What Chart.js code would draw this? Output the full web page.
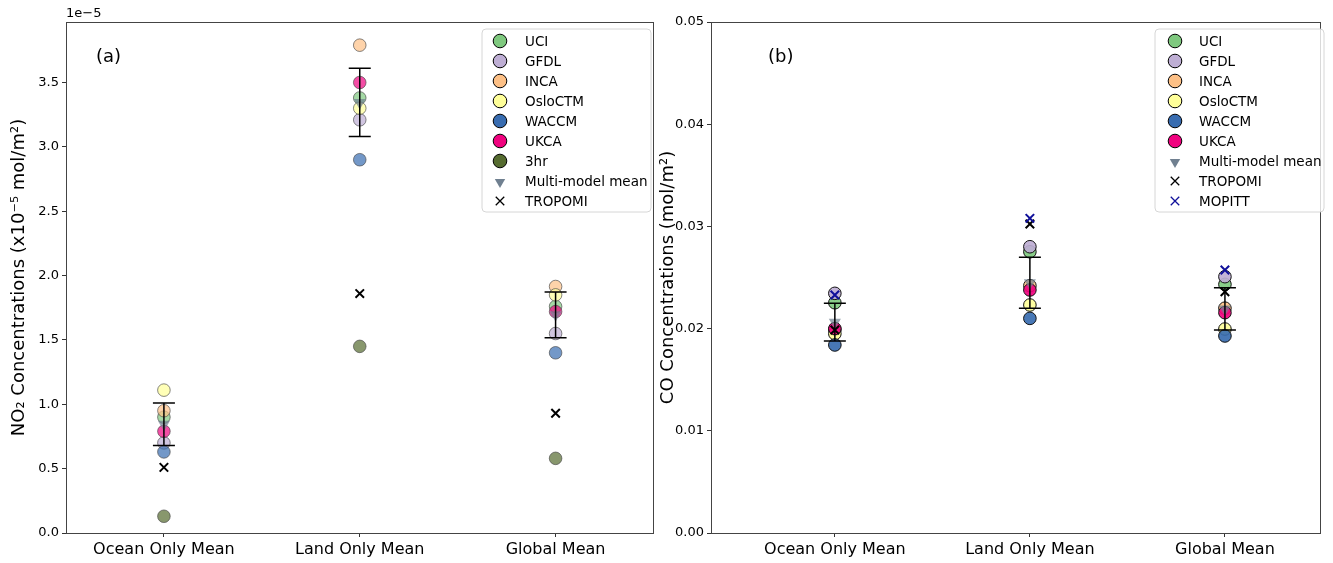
<!DOCTYPE html>
<html><head><meta charset="utf-8">
<script src="https://cdn.jsdelivr.net/npm/chart.js@4.4.1/dist/chart.umd.min.js"></script>
<style>
body{margin:0;background:#fff;width:1333px;height:563px;overflow:hidden;position:relative}
#ca{position:absolute;left:0;top:0}
#cb{position:absolute;left:658px;top:0}
</style></head><body>
<canvas id="ca" width="666" height="563"></canvas>
<canvas id="cb" width="675" height="563"></canvas>
<script>
const categories = ['Ocean Only Mean', 'Land Only Mean', 'Global Mean'];

// Panel (a): NO2 column, in units of 1e-5 mol/m2
const no2UCI     = [0.90, 3.38, 1.76];
const no2GFDL    = [0.70, 3.21, 1.55];
const no2INCA    = [0.95, 3.79, 1.915];
const no2Oslo    = [1.11, 3.30, 1.85];
const no2WACCM   = [0.63, 2.90, 1.40];
const no2UKCA    = [0.79, 3.50, 1.72];
const no2Hr3     = [0.13, 1.45, 0.58];
const no2Mean    = [0.845, 3.345, 1.695];
const no2Std     = [0.165, 0.265, 0.178];
const no2Tropomi = [0.51, 1.86, 0.93];
const no2Ticks   = [0, 0.5, 1.0, 1.5, 2.0, 2.5, 3.0, 3.5];

// Panel (b): CO column, mol/m2
const coUCI     = [0.02253, 0.02752, 0.02433];
const coGFDL    = [0.02345, 0.02801, 0.02508];
const coINCA    = [0.0199, 0.0242, 0.0220];
const coOslo    = [0.0195, 0.02231, 0.01996];
const coWACCM   = [0.0184, 0.0210, 0.01928];
const coUKCA    = [0.0200, 0.02378, 0.02156];
const coMean    = [0.02063, 0.02448, 0.02193];
const coStd     = [0.00185, 0.0025, 0.00207];
const coTropomi = [0.01986, 0.03023, 0.02361];
const coMopitt  = [0.02329, 0.03079, 0.02573];
const coTicks   = [0, 0.01, 0.02, 0.03, 0.04, 0.05];

const FONT = "'DejaVu Sans', sans-serif";
const COL = {UCI:'#7fc97f', GFDL:'#beaed4', INCA:'#fdc086', OsloCTM:'#ffff99', WACCM:'#386cb0', UKCA:'#f0027f', '3hr':'#556b2f'};

function hexA(h, a){const n=parseInt(h.slice(1),16);return `rgba(${n>>16},${(n>>8)&255},${n&255},${a})`;}
const pts = arr => arr.map((v,i)=>({x:i, y:v}));
function errPts(mean, sd){const o=[];mean.forEach((m,i)=>{o.push({x:i,y:m-sd[i]},{x:i,y:m+sd[i]},{x:i,y:null});});return o;}

function modelDs(label, arr, alpha, edge, order){
  return {label, data: pts(arr), pointStyle:'circle', pointRadius:6.3,
    backgroundColor: hexA(COL[label], alpha), borderColor: edge, borderWidth:1, order,
    legend:{type:'circle', color:COL[label]}};
}

function buildOpts(cfg){
  return {
    responsive:false, animation:false, devicePixelRatio:1, events:[],
    layout:{padding:{top:22, right:cfg.padRight, left:0, bottom:0}},
    plugins:{legend:{display:false}, tooltip:{enabled:false}, decor:cfg.decor},
    scales:{
      x:{type:'linear', min:cfg.xmin, max:cfg.xmax,
        afterBuildTicks: s => { s.ticks = categories.map((c,i)=>({value:i})); },
        ticks:{callback:v=>categories[v], font:{family:FONT,size:16}, color:'#000', padding:3, autoSkip:false, maxRotation:0},
        grid:{drawOnChartArea:false, drawTicks:true, tickLength:4, color:'#333'},
        border:{display:false},
        afterFit: s => { s.height = 30; s.paddingLeft = 0; s.paddingRight = 0; }
      },
      y:{type:'linear', min:0, max:cfg.ymax,
        afterBuildTicks: s => { s.ticks = cfg.ticks.map(v=>({value:v})); },
        ticks:{callback:cfg.fmt, font:{family:FONT,size:13}, color:'#000', padding:3},
        grid:{drawOnChartArea:false, drawTicks:true, tickLength:4, color:'#333'},
        border:{display:false},
        title:{display:true, text:cfg.title, font:{family:FONT,size:18}, color:'#000', padding:{top:cfg.titlePad,bottom:0}},
        afterFit: s => { s.width = cfg.yWidth; }
      }
    }
  };
}

const decor = {
  id:'decor',
  afterDraw(chart, args, o){
    if (!o || !o.legend) return;
    const ctx = chart.ctx, a = chart.chartArea;
    ctx.save();
    ctx.strokeStyle = '#444'; ctx.lineWidth = 1;
    ctx.strokeRect(Math.round(a.left)+0.5, Math.round(a.top)+0.5, Math.round(a.right-a.left)-1, Math.round(a.bottom-a.top));
    ctx.fillStyle = '#000';
    if (o.offset){ ctx.font = `13px ${FONT}`; ctx.textBaseline='alphabetic'; ctx.textAlign='left'; ctx.fillText(o.offset, a.left, a.top-5); }
    ctx.font = `18px ${FONT}`; ctx.textBaseline='middle'; ctx.textAlign='left';
    ctx.fillText(o.letter, a.left + o.letterDx, 57);
    // legend box
    const L = o.legend;
    const bx = L.x, by = L.y, bw = L.w, bh = L.h, r = 4;
    ctx.beginPath();
    ctx.moveTo(bx+r,by); ctx.lineTo(bx+bw-r,by); ctx.arcTo(bx+bw,by,bx+bw,by+r,r);
    ctx.lineTo(bx+bw,by+bh-r); ctx.arcTo(bx+bw,by+bh,bx+bw-r,by+bh,r);
    ctx.lineTo(bx+r,by+bh); ctx.arcTo(bx,by+bh,bx,by+bh-r,r);
    ctx.lineTo(bx,by+r); ctx.arcTo(bx,by,bx+r,by,r); ctx.closePath();
    ctx.fillStyle='rgba(255,255,255,0.8)'; ctx.fill();
    ctx.strokeStyle='#d6d6d6'; ctx.lineWidth=1; ctx.stroke();
    const items = chart.data.datasets.filter(d=>d.legend);
    items.forEach((d,i)=>{
      const y = L.y0 + i*L.step, x = L.mx;
      const lg = d.legend;
      if (lg.type==='circle'){
        ctx.fillStyle = lg.color; ctx.strokeStyle='#000'; ctx.lineWidth=1;
        Chart.helpers.drawPoint(ctx, {pointStyle:'circle', radius:6.8, borderWidth:1, rotation:0}, x, y);
      } else if (lg.type==='tri'){
        ctx.fillStyle = lg.color; ctx.strokeStyle=lg.color; ctx.lineWidth=0;
        Chart.helpers.drawPoint(ctx, {pointStyle:'triangle', radius:6, borderWidth:0, rotation:180}, x, y+1);
      } else {
        ctx.strokeStyle = lg.color; ctx.lineWidth=1.3;
        Chart.helpers.drawPoint(ctx, {pointStyle:'crossRot', radius:6, borderWidth:1.3, rotation:0}, x, y);
      }
      ctx.fillStyle='#000'; ctx.font=`13.5px ${FONT}`; ctx.textAlign='left'; ctx.textBaseline='middle';
      ctx.fillText(d.label, L.tx, y+1);
    });
    ctx.restore();
  }
};

// ---------- Panel (a)
const edgeA = 'rgba(70,70,70,0.65)';
const dsA = [
  modelDs('UCI', no2UCI, 0.7, edgeA, 20),
  modelDs('GFDL', no2GFDL, 0.7, edgeA, 19),
  modelDs('INCA', no2INCA, 0.7, edgeA, 18),
  modelDs('OsloCTM', no2Oslo, 0.7, edgeA, 17),
  modelDs('WACCM', no2WACCM, 0.7, edgeA, 16),
  modelDs('UKCA', no2UKCA, 0.7, edgeA, 15),
  modelDs('3hr', no2Hr3, 0.7, edgeA, 14),
  {label:'Multi-model mean', data:pts(no2Mean), pointStyle:'triangle', pointRotation:180, pointRadius:7,
    backgroundColor:'rgba(112,128,144,0.7)', borderColor:'rgba(112,128,144,0)', borderWidth:0, order:13,
    legend:{type:'tri', color:'#708090'}},
  {label:'TROPOMI', data:pts(no2Tropomi), pointStyle:'crossRot', pointRadius:6, borderColor:'#000', borderWidth:2, order:12,
    legend:{type:'x', color:'#000'}},
  {label:'err', data:errPts(no2Mean,no2Std), showLine:true, spanGaps:false, borderColor:'#000', borderWidth:1.5,
    pointStyle:'line', pointRadius:11, pointBorderColor:'#000', pointBorderWidth:1.5, order:1}
];

// ---------- Panel (b)
const edgeB = '#111';
const dsB = [
  modelDs('UCI', coUCI, 0.92, edgeB, 20),
  modelDs('GFDL', coGFDL, 0.92, edgeB, 19),
  modelDs('INCA', coINCA, 0.92, edgeB, 18),
  modelDs('OsloCTM', coOslo, 0.92, edgeB, 17),
  modelDs('WACCM', coWACCM, 0.92, edgeB, 16),
  modelDs('UKCA', coUKCA, 0.92, edgeB, 15),
  {label:'Multi-model mean', data:pts(coMean), pointStyle:'triangle', pointRotation:180, pointRadius:7,
    backgroundColor:'rgba(112,128,144,0.7)', borderColor:'rgba(112,128,144,0)', borderWidth:0, order:13,
    legend:{type:'tri', color:'#708090'}},
  {label:'TROPOMI', data:pts(coTropomi), pointStyle:'crossRot', pointRadius:6, borderColor:'#000', borderWidth:2, order:12,
    legend:{type:'x', color:'#000'}},
  {label:'MOPITT', data:pts(coMopitt), pointStyle:'crossRot', pointRadius:6, borderColor:'#10109a', borderWidth:2, order:11,
    legend:{type:'x', color:'#10109a'}},
  {label:'err', data:errPts(coMean,coStd), showLine:true, spanGaps:false, borderColor:'#000', borderWidth:1.5,
    pointStyle:'line', pointRadius:11, pointBorderColor:'#000', pointBorderWidth:1.5, order:1}
];

const oa = buildOpts({padRight:8, xmin:-0.5, xmax:2.5, ymax:3.97, ticks:no2Ticks,
  fmt:v=>v.toFixed(1), title:'NO\u2082 Concentrations (x10\u207B\u2075 mol/m\u00B2)', yWidth:66, titlePad:9,
  decor:{offset:'1e\u22125', letter:'(a)', letterDx:30, legend:{x:482, y:29, w:169, h:183, y0:41, step:20, mx:500, tx:525}}});
new Chart(document.getElementById('ca'), {type:'scatter', data:{datasets:dsA}, options:oa, plugins:[decor]});

const ob = buildOpts({padRight:3, xmin:-0.635, xmax:2.49, ymax:0.05, ticks:coTicks,
  fmt:v=>v.toFixed(2), title:'CO Concentrations (mol/m\u00B2)', yWidth:53, titlePad:0,
  decor:{offset:null, letter:'(b)', letterDx:57, legend:{x:497, y:29, w:169, h:183, y0:41, step:20, mx:517, tx:541}}});
new Chart(document.getElementById('cb'), {type:'scatter', data:{datasets:dsB}, options:ob, plugins:[decor]});
</script>
</body></html>
